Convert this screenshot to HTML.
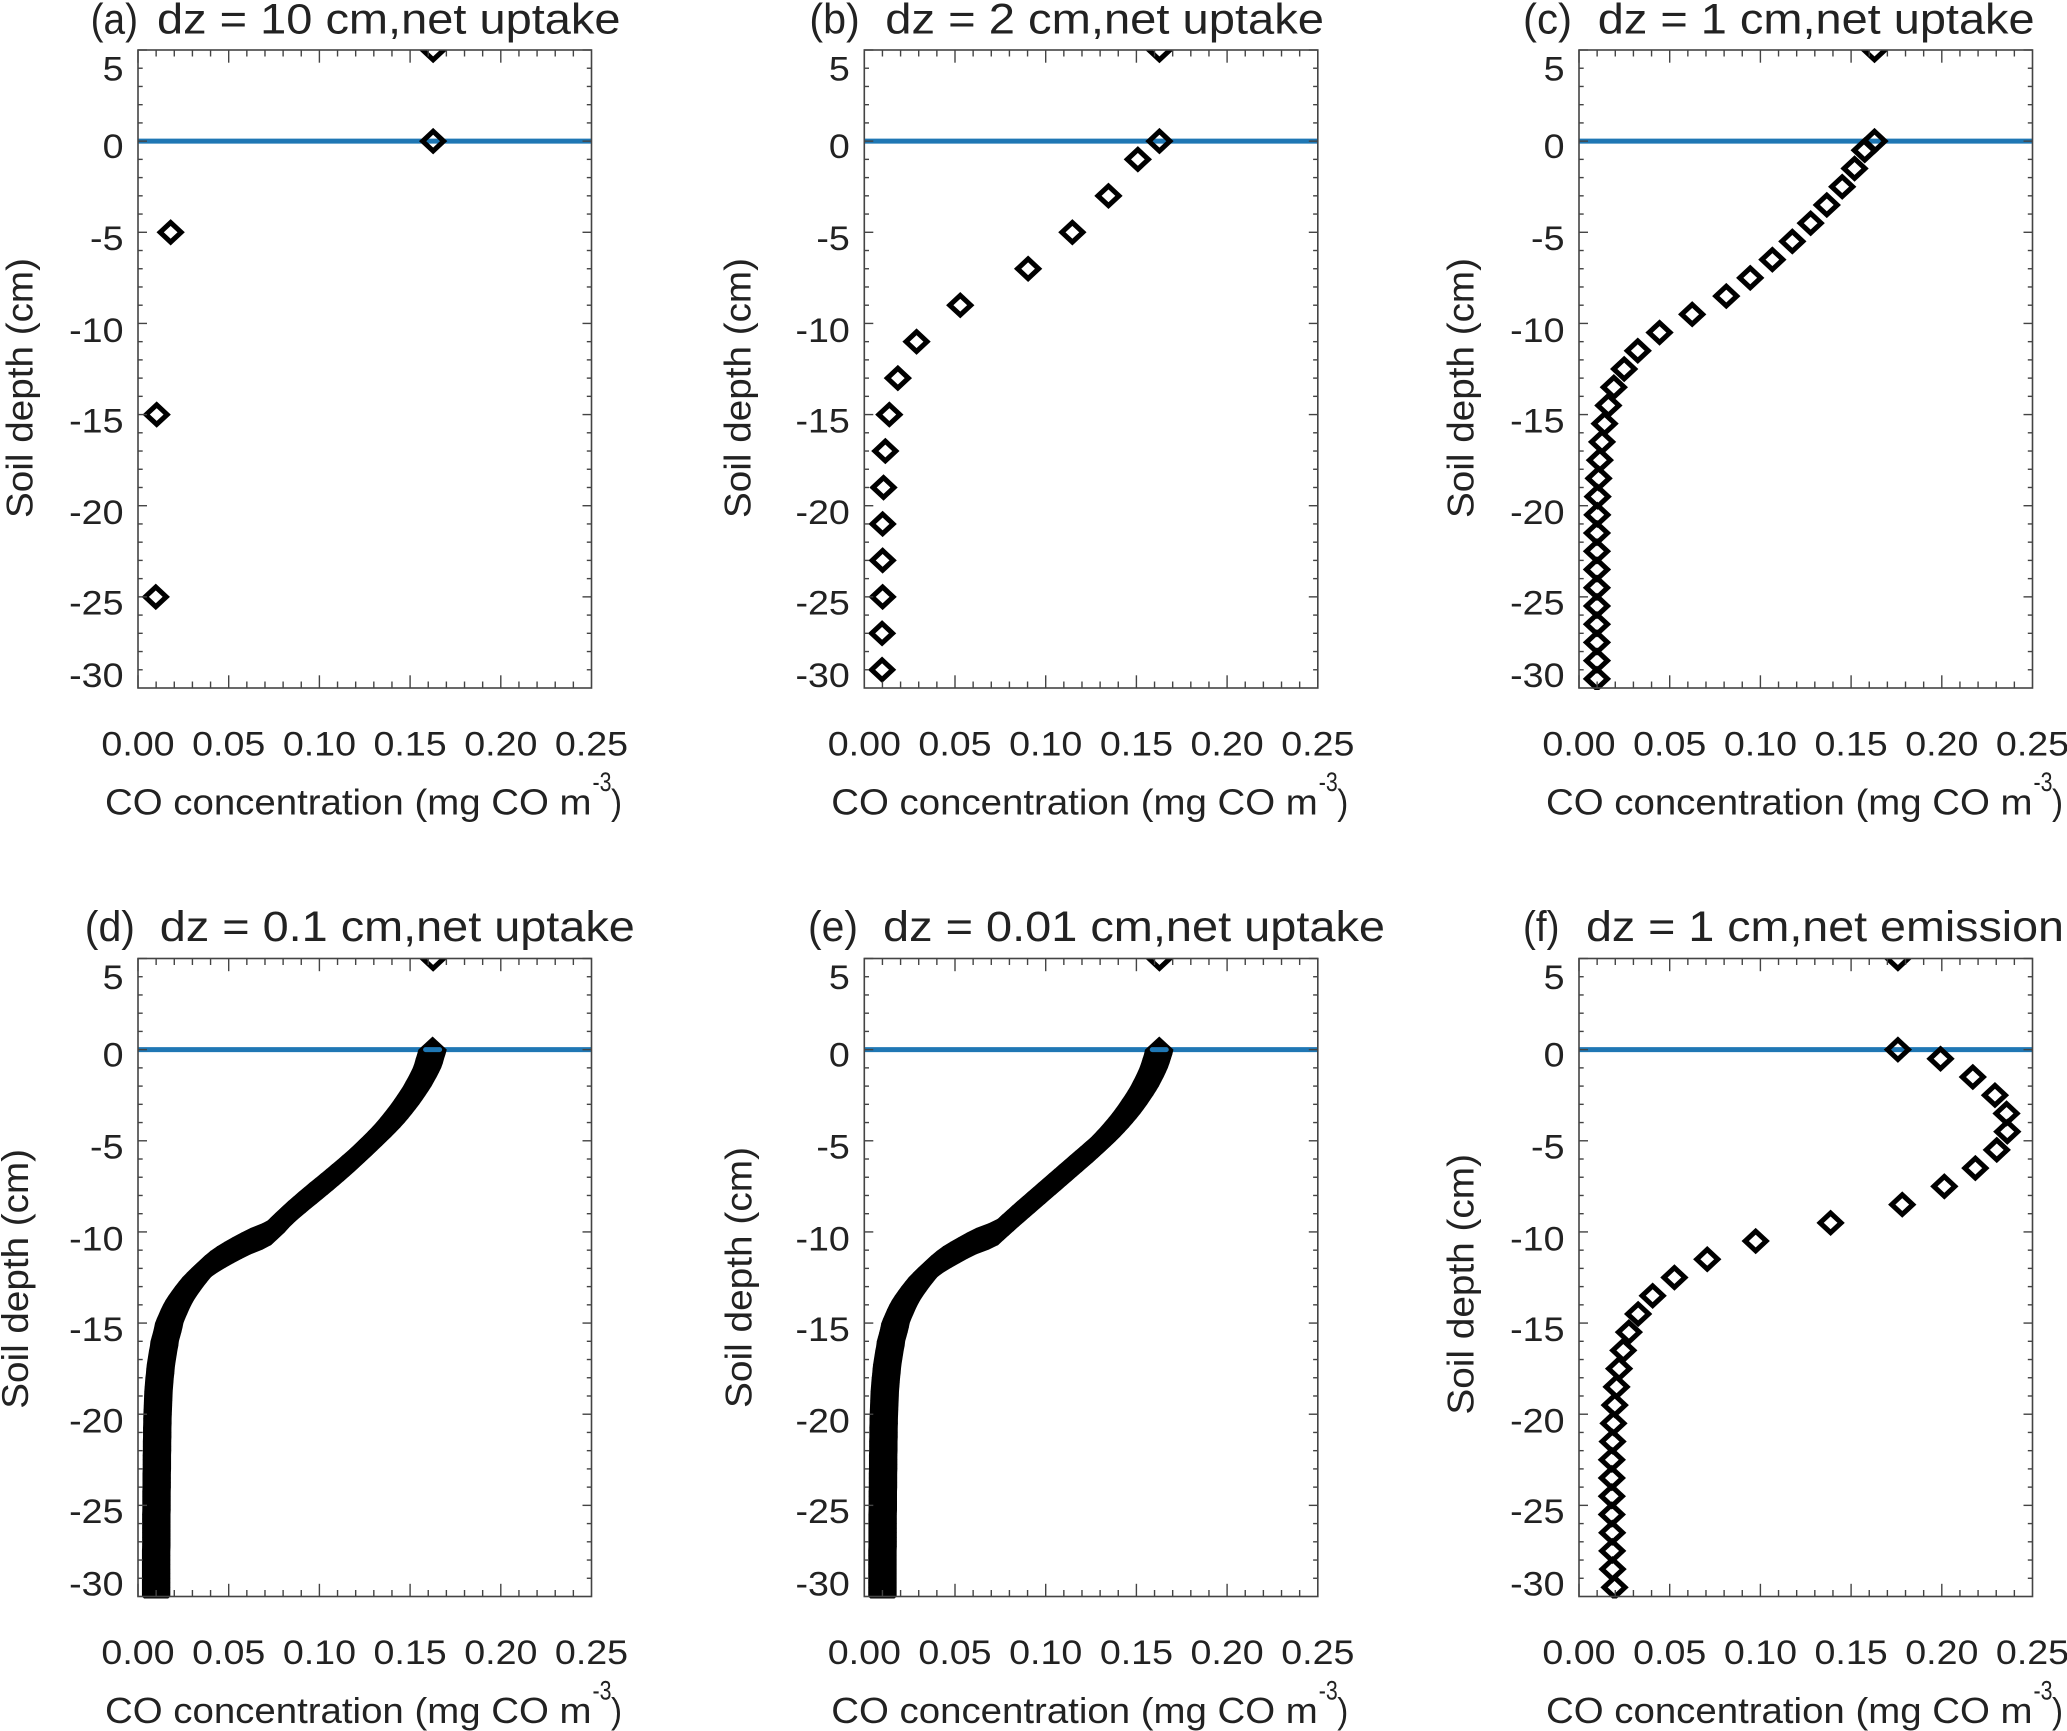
<!DOCTYPE html>
<html lang="en">
<head>
<meta charset="utf-8">
<title>CO concentration profiles in soil</title>
<style>
  html, body { margin: 0; padding: 0; background: #fff; }
  svg { display: block; }
  text { font-family: "Liberation Sans", Arial, sans-serif; fill: #222; }
</style>
</head>
<body>
<svg id="chart" xmlns="http://www.w3.org/2000/svg" width="2067" height="1731" viewBox="0 0 2067 1731"></svg>
<script>
// ---- chart data ----
const xTickValues = [0, 0.05, 0.10, 0.15, 0.20, 0.25];
const xTickLabels = ['0.00', '0.05', '0.10', '0.15', '0.20', '0.25'];
const yTickValues = [5, 0, -5, -10, -15, -20, -25, -30];
const yTickLabels = ['5', '0', '-5', '-10', '-15', '-20', '-25', '-30'];

const panelLetters = ['(a)', '(b)', '(c)', '(d)', '(e)', '(f)'];
const panelTitles = ['dz = 10 cm,net uptake', 'dz = 2 cm,net uptake', 'dz = 1 cm,net uptake',
                     'dz = 0.1 cm,net uptake', 'dz = 0.01 cm,net uptake', 'dz = 1 cm,net emission'];

const depthsA = [5, 0, -5, -15, -25];
const valuesA = [0.1627, 0.1627, 0.018, 0.0103, 0.0098];

const depthsB = [5, 0, -1, -3, -5, -7, -9, -11, -13, -15, -17, -19, -21, -23, -25, -27, -29];
const valuesB = [0.1627, 0.1627, 0.1508, 0.1346, 0.1147, 0.0903, 0.0529, 0.0288, 0.0185, 0.0138, 0.0116, 0.0106, 0.0101, 0.0101, 0.0101, 0.0098, 0.0098];

const depthsC = [5, 0, -0.5, -1.5, -2.5, -3.5, -4.5, -5.5, -6.5, -7.5, -8.5, -9.5, -10.5, -11.5, -12.5, -13.5, -14.5, -15.5, -16.5, -17.5, -18.5, -19.5, -20.5, -21.5, -22.5, -23.5, -24.5, -25.5, -26.5, -27.5, -28.5, -29.5];
const valuesC = [0.1629, 0.1629, 0.1575, 0.1519, 0.1451, 0.1366, 0.1277, 0.1176, 0.1066, 0.0944, 0.0812, 0.0624, 0.0444, 0.0324, 0.0249, 0.0192, 0.0162, 0.0141, 0.0127, 0.0115, 0.0108, 0.0103, 0.0101, 0.0099, 0.0099, 0.0099, 0.0099, 0.0099, 0.0099, 0.0099, 0.0099, 0.0099];

const depthsFine = [0,-0.25,-0.5,-0.75,-1,-1.25,-1.5,-1.75,-2,-2.25,-2.5,-2.75,-3,-3.25,-3.5,-3.75,-4,-4.25,-4.5,-4.75,-5,-5.25,-5.5,-5.75,-6,-6.25,-6.5,-6.75,-7,-7.25,-7.5,-7.75,-8,-8.25,-8.5,-8.75,-9,-9.25,-9.5,-9.75,-10,-10.25,-10.5,-10.75,-11,-11.25,-11.5,-11.75,-12,-12.25,-12.5,-12.75,-13,-13.25,-13.5,-13.75,-14,-14.25,-14.5,-14.75,-15,-15.25,-15.5,-15.75,-16,-16.25,-16.5,-16.75,-17,-17.25,-17.5,-17.75,-18,-18.25,-18.5,-18.75,-19,-19.25,-19.5,-19.75,-20,-20.25,-20.5,-20.75,-21,-21.25,-21.5,-21.75,-22,-22.25,-22.5,-22.75,-23,-23.25,-23.5,-23.75,-24,-24.25,-24.5,-24.75,-25,-25.25,-25.5,-25.75,-26,-26.25,-26.5,-26.75,-27,-27.25,-27.5,-27.75,-28,-28.25,-28.5,-28.75,-29,-29.25,-29.5,-29.75,-30];

const valuesD = [.1624,.1617,.1609,.1602,.1593,.1581,.1568,.1554,.1540,.1524,.1507,.1490,.1472,.1453,.1433,.1413,.1392,.1369,.1345,.1320,.1294,.1268,.1242,.1215,.1188,.1160,.1131,.1102,.1072,.1042,.1012,.0981,.0950,.0920,.0890,.0861,.0832,.0806,.0780,.0755,.0733,.0686,.0622,.0572,.0524,.0480,.0438,.0402,.0372,.0346,.0322,.0302,.0282,.0264,.0246,.0230,.0216,.0204,.0193,.0182,.0172,.0167,.0161,.0154,.0147,.0144,.0139,.0135,.0131,.0127,.0124,.0122,.0119,.0117,.0115,.0113,.0112,.0111,.0110,.0109,.0108,.0107,.0107,.0106,.0106,.0106,.0105,.0105,.0105,.0104,.0104,.0104,.0104,.0103,.0103,.0103,.0103,.0102,.0102,.0102,.0102,.0102,.0101,.0101,.0101,.0101,.0101,.0101,.0101,.0101,.0100,.0100,.0100,.0100,.0100,.0100,.0100,.0100,.0100,.0100,.0100];

const valuesE = [.1626,.1620,.1612,.1604,.1595,.1584,.1572,.1559,.1546,.1531,.1515,.1498,.1481,.1463,.1444,.1424,.1403,.1381,.1358,.1334,.1309,.1282,.1254,.1225,.1196,.1167,.1138,.1109,.1080,.1051,.1022,.0993,.0964,.0935,.0906,.0877,.0848,.0820,.0792,.0764,.0737,.0686,.0618,.0568,.0522,.0478,.0436,.0402,.0372,.0346,.0322,.0302,.0282,.0264,.0246,.0230,.0216,.0204,.0193,.0182,.0172,.0167,.0161,.0154,.0147,.0144,.0139,.0135,.0131,.0127,.0124,.0122,.0119,.0117,.0115,.0113,.0112,.0111,.0110,.0109,.0108,.0107,.0107,.0106,.0106,.0106,.0105,.0105,.0105,.0104,.0104,.0104,.0104,.0103,.0103,.0103,.0103,.0102,.0102,.0102,.0102,.0102,.0101,.0101,.0101,.0101,.0101,.0101,.0101,.0101,.0100,.0100,.0100,.0100,.0100,.0100,.0100,.0100,.0100,.0100,.0100];

const depthsF = [5, 0, -0.5, -1.5, -2.5, -3.5, -4.5, -5.5, -6.5, -7.5, -8.5, -9.5, -10.5, -11.5, -12.5, -13.5, -14.5, -15.5, -16.5, -17.5, -18.5, -19.5, -20.5, -21.5, -22.5, -23.5, -24.5, -25.5, -26.5, -27.5, -28.5, -29.5];
const valuesF = [0.1758, 0.1758, 0.1993, 0.2171, 0.2293, 0.2357, 0.2361, 0.2303, 0.2185, 0.2014, 0.1782, 0.1387, 0.0974, 0.0707, 0.0526, 0.0406, 0.0326, 0.0275, 0.0244, 0.0221, 0.0207, 0.0197, 0.0190, 0.0185, 0.0181, 0.0181, 0.0181, 0.0181, 0.0183, 0.0183, 0.0185, 0.0196];

const aboveSurfaceDepth = [5];
const aboveSurfaceValue = [0.1627];

// ---- per-panel wiring ----
const panelSeries = [
  { depths: depthsA, values: valuesA, dense: false },
  { depths: depthsB, values: valuesB, dense: false },
  { depths: depthsC, values: valuesC, dense: false },
  { depths: depthsFine, values: valuesD, dense: true },
  { depths: depthsFine, values: valuesE, dense: true },
  { depths: depthsF, values: valuesF, dense: false }
];

// ---- layout (pixels) ----
const plotWidth = 453.5, plotHeight = 638;
const xDomain = [0, 0.25], yDomain = [5, -30];
const plotLefts = [138, 864.3, 1579, 138, 864.3, 1579];
const plotTops = [50, 50, 50, 958.5, 958.5, 958.5];
const titleLift = [16.5, 16.5, 16.5, 17.5, 17.5, 17.5];
const letterSpans = [[90.6, 138], [809.4, 859.8], [1523, 1572], [84.8, 135], [808, 858], [1523, 1559.5]];
const titleSpans = [[157, 620.5], [885.3, 1324], [1597.8, 2034.6], [159.8, 634.8], [883, 1385], [1586, 2064]];
const yTitleX = [32.5, 750.3, 1473.4, 28, 751.6, 1473.4];
const yTitleSpan = [[518, 258], [518, 258], [518, 258], [1408.7, 1149], [1408, 1147], [1414.6, 1154]];
const yLabelShift = [30.5, 16.7, 17.8, 18.4, 17.8, 18.4, 17.8, -0.8];

const NS = 'http://www.w3.org/2000/svg';
const svg = document.getElementById('chart');

function make(parent, tag, attrs) {
  const el = document.createElementNS(NS, tag);
  for (const k in attrs) el.setAttribute(k, attrs[k]);
  parent.appendChild(el);
  return el;
}

function hull(points) {
  const p = points.slice().sort((u, v) => u[0] - v[0] || u[1] - v[1]);
  const cross = (o, a, b) => (a[0] - o[0]) * (b[1] - o[1]) - (a[1] - o[1]) * (b[0] - o[0]);
  const lower = [], upper = [];
  p.forEach(q => {
    while (lower.length > 1 && cross(lower[lower.length - 2], lower[lower.length - 1], q) <= 0) lower.pop();
    lower.push(q);
  });
  p.slice().reverse().forEach(q => {
    while (upper.length > 1 && cross(upper[upper.length - 2], upper[upper.length - 1], q) <= 0) upper.pop();
    upper.push(q);
  });
  return lower.slice(0, -1).concat(upper.slice(0, -1));
}

function drawPanel(i) {
  const left = plotLefts[i], top = plotTops[i];
  const sx = v => left + (v - xDomain[0]) / (xDomain[1] - xDomain[0]) * plotWidth;
  const sy = d => top + (yDomain[0] - d) / (yDomain[0] - yDomain[1]) * plotHeight;
  const right = left + plotWidth, bottom = top + plotHeight;

  const g = make(svg, 'g', {});
  
  

  const clip = make(g, 'clipPath', { id: 'clip' + i });
  make(clip, 'rect', { x: left, y: top, width: plotWidth, height: plotHeight + 2 });

  // zero line
  const zero = make(g, 'line', { x1: left, x2: right, y1: sy(0), y2: sy(0), stroke: '#1f77b4', 'stroke-width': 5 });
  
  

  // markers
  const marks = make(g, 'g', { 'clip-path': 'url(#clip' + i + ')', fill: 'none', stroke: '#000', 'stroke-width': 5, 'stroke-linejoin': 'miter' });
  
  
  const a = 10.5, b = 9.8, outerA = 14.2, outerB = 13.2;
  const s = panelSeries[i];
  const drawHollow = (v, d) => {
    const cx = sx(v), cy = sy(d);
    const m = make(marks, 'polygon', { points: [cx - a, cy, cx, cy - b, cx + a, cy, cx, cy + b].join(' ') });
    
    
  };
  if (s.dense) {
    drawHollow(aboveSurfaceValue[0], aboveSurfaceDepth[0]);
    const outline = (v, d) => {
      const cx = sx(v), cy = sy(d);
      return [[cx - outerA, cy], [cx, cy - outerB], [cx + outerA, cy], [cx, cy + outerB]];
    };
    for (let k = 1; k < s.depths.length; k++) {
      const poly = hull(outline(s.values[k - 1], s.depths[k - 1]).concat(outline(s.values[k], s.depths[k])));
      const m = make(marks, 'polygon', { points: poly.map(q => q.join(',')).join(' '), fill: '#000', stroke: 'none' });
      
      
    }
    const lens = make(g, 'line', { x1: sx(s.values[0]) - 7, x2: sx(s.values[0]) + 7, y1: sy(0), y2: sy(0), stroke: '#1f77b4', 'stroke-width': 5, 'stroke-linecap': 'round' });
    
    
  } else {
    s.depths.forEach((d, k) => drawHollow(s.values[k], d));
  }

  // frame
  const frame = make(g, 'rect', { x: left, y: top, width: plotWidth, height: plotHeight, fill: 'none', stroke: '#444', 'stroke-width': 1.6 });
  
  

  // ticks
  const ticks = make(g, 'g', { stroke: '#444', 'stroke-width': 1.4 });
  
  
  const xMajorStep = xTickValues[1] - xTickValues[0];
  for (let k = 0; k < xTickValues.length - 1; k++) {
    for (let m = 0; m < 5; m++) {
      const v = xTickValues[k] + m * xMajorStep / 5;
      const len = m === 0 ? 12.7 : 6.5;
      make(ticks, 'line', { x1: sx(v), x2: sx(v), y1: bottom, y2: bottom - len });
      make(ticks, 'line', { x1: sx(v), x2: sx(v), y1: top, y2: top + len });
    }
  }
  const yMajorStep = yTickValues[0] - yTickValues[1];
  for (let k = 0; k < yTickValues.length - 1; k++) {
    for (let m = 0; m < 5; m++) {
      const d = yTickValues[k] - m * yMajorStep / 5;
      const len = m === 0 ? 9 : 4.7;
      make(ticks, 'line', { x1: left, x2: left + len, y1: sy(d), y2: sy(d) });
      make(ticks, 'line', { x1: right, x2: right - len, y1: sy(d), y2: sy(d) });
    }
  }

  // x tick labels
  xTickValues.forEach((v, k) => {
    const t = make(g, 'text', { transform: 'translate(' + sx(v) + ',' + (bottom + 67.5) + ') scale(1.09,1)', 'text-anchor': 'middle', 'font-size': 34.5 });
    t.textContent = xTickLabels[k];
    
    
  });

  // y tick labels
  yTickValues.forEach((d, k) => {
    const t = make(g, 'text', { transform: 'translate(' + (left - 14.5) + ',' + (sy(d) + yLabelShift[k]) + ') scale(1.09,1)', 'text-anchor': 'end', 'font-size': 34.5 });
    t.textContent = yTickLabels[k];
    
    
  });

  // x title
  const xt = make(g, 'text', { x: left - 33, y: bottom + 126.5, 'font-size': 36, textLength: 486.5, lengthAdjust: 'spacingAndGlyphs' });
  xt.textContent = 'CO concentration (mg CO m';
  
  
  const sup = make(g, 'text', { x: left + 454.5, y: bottom + 103, 'font-size': 27, textLength: 19, lengthAdjust: 'spacingAndGlyphs' });
  sup.textContent = '-3';
  
  
  const par = make(g, 'text', { x: left + 473, y: bottom + 126.5, 'font-size': 36, textLength: 11, lengthAdjust: 'spacingAndGlyphs' });
  par.textContent = ')';
  
  

  // y title
  const ys = yTitleSpan[i];
  const yt = make(g, 'text', { transform: 'translate(' + yTitleX[i] + ',' + ys[0] + ') rotate(-90)', x: 0, y: 0, 'font-size': 37, textLength: ys[0] - ys[1], lengthAdjust: 'spacingAndGlyphs' });
  yt.textContent = 'Soil depth (cm)';
  
  

  // panel title
  const ls = letterSpans[i], ts = titleSpans[i];
  const lt = make(g, 'text', { x: ls[0], y: top - titleLift[i], 'font-size': 43, textLength: ls[1] - ls[0], lengthAdjust: 'spacingAndGlyphs' });
  lt.textContent = panelLetters[i];
  
  
  const tt = make(g, 'text', { x: ts[0], y: top - titleLift[i], 'font-size': 43, textLength: ts[1] - ts[0], lengthAdjust: 'spacingAndGlyphs' });
  tt.textContent = panelTitles[i];
  
  
}

for (let i = 0; i < 6; i++) drawPanel(i);
</script>
</body>
</html>
